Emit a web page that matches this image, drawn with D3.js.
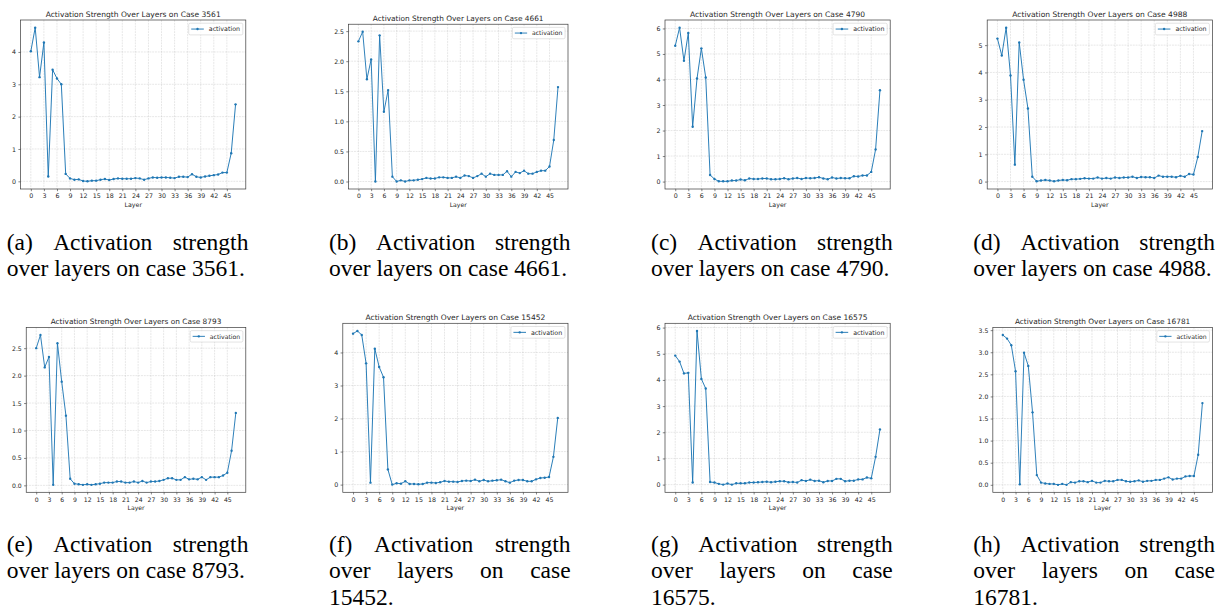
<!DOCTYPE html>
<html>
<head>
<meta charset="utf-8">
<script src="https://cdn.jsdelivr.net/npm/d3@7"></script>
<style>
body { margin: 0; background: #fff; }
svg { display: block; background: #fff; }
.panel text { font-family: "DejaVu Sans", sans-serif; fill: #262626; }
.caption text { font-family: "Liberation Serif", "Times New Roman", serif; fill: #000; }
.grid line { stroke: #b0b0b0; stroke-opacity: 0.6; stroke-dasharray: 1.9, 0.9; stroke-width: 0.5; }
</style>
</head>
<body>
<svg width="1225" height="609"></svg>
<script>
// activation per layer (0..47)
const case3561 = [4.02, 4.75, 3.22, 4.29, 0.15, 3.45, 3.18, 3.00, 0.23, 0.09,
    0.05, 0.06, 0.01, 0.00, 0.02, 0.02, 0.05, 0.07, 0.04, 0.07,
    0.09, 0.08, 0.08, 0.08, 0.10, 0.09, 0.05, 0.09, 0.12, 0.11,
    0.12, 0.12, 0.11, 0.10, 0.14, 0.14, 0.13, 0.22, 0.14, 0.12,
    0.15, 0.17, 0.19, 0.21, 0.27, 0.27, 0.87, 2.38];
const case4661 = [2.33, 2.49, 1.70, 2.03, 0.00, 2.43, 1.16, 1.52, 0.08, 0.00,
    0.02, 0.00, 0.02, 0.02, 0.03, 0.04, 0.06, 0.05, 0.05, 0.07,
    0.07, 0.06, 0.06, 0.08, 0.06, 0.10, 0.09, 0.06, 0.09, 0.13,
    0.08, 0.13, 0.11, 0.11, 0.11, 0.17, 0.08, 0.16, 0.14, 0.18,
    0.13, 0.13, 0.16, 0.18, 0.18, 0.25, 0.69, 1.57];
const case4790 = [5.32, 6.03, 4.73, 5.82, 2.15, 4.04, 5.22, 4.08, 0.26, 0.10,
    0.01, 0.01, 0.01, 0.04, 0.04, 0.08, 0.05, 0.12, 0.10, 0.10,
    0.12, 0.12, 0.09, 0.09, 0.10, 0.13, 0.09, 0.12, 0.14, 0.10,
    0.14, 0.13, 0.14, 0.17, 0.12, 0.09, 0.16, 0.12, 0.14, 0.13,
    0.13, 0.21, 0.20, 0.24, 0.24, 0.38, 1.26, 3.58];
const case4988 = [5.24, 4.62, 5.64, 3.89, 0.62, 5.10, 3.73, 2.68, 0.18, 0.01,
    0.04, 0.06, 0.04, 0.01, 0.04, 0.06, 0.05, 0.09, 0.09, 0.10,
    0.12, 0.11, 0.11, 0.15, 0.11, 0.13, 0.11, 0.15, 0.13, 0.15,
    0.15, 0.18, 0.13, 0.17, 0.16, 0.16, 0.13, 0.22, 0.18, 0.18,
    0.18, 0.16, 0.21, 0.18, 0.28, 0.26, 0.90, 1.85];
const case8793 = [2.50, 2.74, 2.15, 2.34, 0.01, 2.59, 1.89, 1.27, 0.12, 0.03,
    0.02, 0.01, 0.02, 0.01, 0.02, 0.03, 0.05, 0.05, 0.05, 0.07,
    0.07, 0.05, 0.05, 0.07, 0.05, 0.08, 0.05, 0.07, 0.07, 0.08,
    0.10, 0.13, 0.13, 0.10, 0.10, 0.15, 0.11, 0.12, 0.11, 0.15,
    0.10, 0.15, 0.15, 0.15, 0.18, 0.23, 0.63, 1.32];
const case15452 = [4.57, 4.65, 4.53, 3.67, 0.06, 4.11, 3.56, 3.25, 0.46, 0.00,
    0.04, 0.03, 0.10, 0.02, 0.02, 0.01, 0.02, 0.06, 0.06, 0.05,
    0.07, 0.11, 0.09, 0.09, 0.08, 0.11, 0.12, 0.11, 0.15, 0.10,
    0.14, 0.10, 0.12, 0.13, 0.15, 0.10, 0.06, 0.12, 0.14, 0.14,
    0.10, 0.10, 0.16, 0.20, 0.21, 0.23, 0.84, 2.02];
const case16575 = [4.93, 4.70, 4.25, 4.27, 0.08, 5.87, 4.04, 3.67, 0.10, 0.08,
    0.03, 0.00, 0.04, 0.00, 0.05, 0.05, 0.05, 0.08, 0.08, 0.09,
    0.10, 0.11, 0.09, 0.11, 0.13, 0.13, 0.09, 0.10, 0.08, 0.17,
    0.14, 0.19, 0.14, 0.15, 0.09, 0.14, 0.14, 0.22, 0.22, 0.13,
    0.15, 0.15, 0.20, 0.20, 0.27, 0.24, 1.06, 2.11];
const case16781 = [3.39, 3.31, 3.16, 2.57, 0.01, 2.99, 2.69, 1.64, 0.22, 0.05,
    0.03, 0.02, 0.02, 0.00, 0.02, 0.00, 0.06, 0.05, 0.08, 0.08,
    0.06, 0.09, 0.05, 0.05, 0.09, 0.08, 0.08, 0.11, 0.11, 0.08,
    0.07, 0.08, 0.10, 0.07, 0.09, 0.09, 0.11, 0.11, 0.14, 0.17,
    0.12, 0.14, 0.14, 0.19, 0.20, 0.20, 0.68, 1.85];

const caseIds = ["3561", "4661", "4790", "4988", "8793", "15452", "16575", "16781"];
const letters = ["a", "b", "c", "d", "e", "f", "g", "h"];
const series = [case3561, case4661, case4790, case4988, case8793, case15452, case16575, case16781];

const layerTicks = [0, 3, 6, 9, 12, 15, 18, 21, 24, 27, 30, 33, 36, 39, 42, 45];
const yTicks = [
    [0, 1, 2, 3, 4],
    [0, 0.5, 1, 1.5, 2, 2.5],
    [0, 1, 2, 3, 4, 5, 6],
    [0, 1, 2, 3, 4, 5],
    [0, 0.5, 1, 1.5, 2, 2.5],
    [0, 1, 2, 3, 4],
    [0, 1, 2, 3, 4, 5, 6],
    [0, 0.5, 1, 1.5, 2, 2.5, 3, 3.5]
];

let svg = d3.select("svg");
const blue = "#1f77b4";
const colStep = 322.2, rowStep = 303.3;

function drawPanel(i) {
    let col = i % 4, row = Math.floor(i / 4);
    let ticks = yTicks[i];
    let decimal = ticks.some(t => t % 1 !== 0);
    // panels with wider tick labels were scaled down a little
    let s = decimal ? 0.975 : 1;
    let w = 225.2 * s, h = 169 * s;
    let right = 245.8 + col * colStep, bottom = 189 + row * rowStep;
    let values = series[i];
    let fs = 6.3 * s;

    let n = values.length - 1;
    let x = d3.scaleLinear().domain([-0.05 * n, n * 1.05]).range([0, w]);
    let ext = d3.extent(values), pad = (ext[1] - ext[0]) * 0.05;
    let y = d3.scaleLinear().domain([ext[0] - pad, ext[1] + pad]).range([h, 0]);

    let g = svg.append("g")
        .attr("class", "panel")
        .attr("transform", "translate(" + (right - w) + "," + (bottom - h) + ")");

    // grid
    let grid = g.append("g").attr("class", "grid");
    grid.selectAll("line.v").data(layerTicks).enter().append("line")
        .attr("class", "v")
        .attr("x1", d => x(d)).attr("x2", d => x(d))
        .attr("y1", 0).attr("y2", h);
    grid.selectAll("line.h").data(ticks).enter().append("line")
        .attr("class", "h")
        .attr("x1", 0).attr("x2", w)
        .attr("y1", d => y(d)).attr("y2", d => y(d));

    // axes
    let xAxis = d3.axisBottom(x).tickValues(layerTicks)
        .tickSize(2.2 * s).tickPadding(2.8 * s).tickFormat(d3.format("d"));
    let yAxis = d3.axisLeft(y).tickValues(ticks)
        .tickSize(2.2 * s).tickPadding(2.4 * s)
        .tickFormat(decimal ? d3.format(".1f") : d3.format("d"));

    g.append("g").attr("transform", "translate(0," + h + ")").call(xAxis)
        .call(a => a.select(".domain").remove())
        .attr("font-size", fs).attr("color", "#333")
        .selectAll("line").attr("stroke-width", 0.6);
    g.append("g").call(yAxis)
        .call(a => a.select(".domain").remove())
        .attr("font-size", fs).attr("color", "#333")
        .selectAll("line").attr("stroke-width", 0.6);

    // series
    let line = d3.line().x((d, j) => x(j)).y(d => y(d));
    g.append("path").datum(values)
        .attr("d", line)
        .attr("fill", "none")
        .attr("stroke", blue)
        .attr("stroke-width", 0.95 * s)
        .attr("stroke-linejoin", "round");
    g.selectAll("circle.pt").data(values).enter().append("circle")
        .attr("class", "pt")
        .attr("cx", (d, j) => x(j))
        .attr("cy", d => y(d))
        .attr("r", 1.2 * s)
        .attr("fill", blue);

    // frame
    g.append("rect")
        .attr("width", w).attr("height", h)
        .attr("fill", "none")
        .attr("stroke", "#3a3a3a")
        .attr("stroke-width", 0.7);

    // title and axis label
    g.append("text")
        .attr("x", w / 2).attr("y", -3.4 * s)
        .attr("text-anchor", "middle")
        .attr("font-size", 7.56 * s)
        .text("Activation Strength Over Layers on Case " + caseIds[i]);
    g.append("text")
        .attr("x", w / 2).attr("y", h + 18 * s)
        .attr("text-anchor", "middle")
        .attr("font-size", fs)
        .text("Layer");

    // legend
    let lg = g.append("g");
    let box = lg.append("rect");
    let label = lg.append("text").attr("font-size", fs).text("activation");
    let tw = label.node().getComputedTextLength();
    let bw = (2.5 + 12.6 + 5 + 2.8) * s + tw, bh = 11.7 * s;
    let bx = w - 3 * s - bw, by = 3.2 * s;
    box.attr("x", bx).attr("y", by).attr("width", bw).attr("height", bh)
        .attr("rx", 1.5).attr("fill", "#fff").attr("fill-opacity", 0.8)
        .attr("stroke", "#d0d0d0").attr("stroke-width", 0.6);
    lg.append("line")
        .attr("x1", bx + 2.5 * s).attr("x2", bx + 15.1 * s)
        .attr("y1", by + bh / 2).attr("y2", by + bh / 2)
        .attr("stroke", blue).attr("stroke-width", 0.95 * s);
    lg.append("circle")
        .attr("cx", bx + 8.8 * s).attr("cy", by + bh / 2)
        .attr("r", 1.2 * s).attr("fill", blue);
    label.attr("x", bx + 20.1 * s).attr("y", by + bh / 2 + fs * 0.36);
}

// captions are justified like the latex source
const capSize = 23.5, capWidth = 241.7, capLead = 26.4;

function drawCaption(i) {
    let col = i % 4, row = Math.floor(i / 4);
    let left = 6.7 + col * colStep;
    let top = 249.5 + row * 302.4;
    let words = ("(" + letters[i] + ") Activation strength over layers on case " + caseIds[i] + ".").split(" ");
    let cg = svg.append("g").attr("class", "caption");

    let probe = cg.append("text").attr("font-size", capSize);
    let widths = words.map(wd => { probe.text(wd); return probe.node().getComputedTextLength(); });
    probe.remove();
    let space = capSize * 0.25;

    let lines = [], cur = [], curW = 0;
    words.forEach((wd, k) => {
        let add = cur.length ? space + widths[k] : widths[k];
        if (cur.length && curW + add > capWidth) {
            lines.push(cur);
            cur = [k];
            curW = widths[k];
        } else {
            cur.push(k);
            curW += add;
        }
    });
    lines.push(cur);

    lines.forEach((ln, li) => {
        let natural = d3.sum(ln, k => widths[k]);
        let last = li === lines.length - 1;
        let gap = (!last && ln.length > 1) ? (capWidth - natural) / (ln.length - 1) : space;
        let t = cg.append("text")
            .attr("font-size", capSize)
            .attr("y", top + li * capLead);
        let xPos = left;
        ln.forEach(k => {
            t.append("tspan").attr("x", xPos).text(words[k]);
            xPos += widths[k] + gap;
        });
    });
}

for (let i = 0; i < series.length; i++) {
    drawPanel(i);
    drawCaption(i);
}
</script>
</body>
</html>
